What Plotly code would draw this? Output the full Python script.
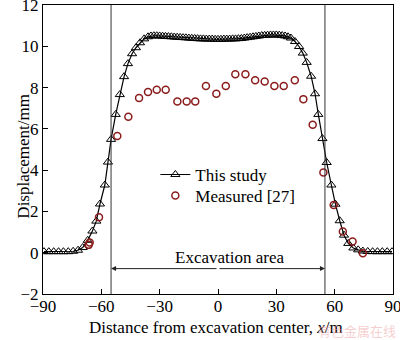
import plotly.graph_objects as go

# Simulated surface displacement profile (this study)
sim_x = [-89.5, -87, -84.5, -82, -79.5, -77, -74.5, -72, -69.6, -67, -64.6, -62.6,
         -60.7, -58.2, -56.6, -55, -52.6, -50.5, -48.3, -46.3, -44.2, -42.2, -40.1,
         -38, -36, -34.5, -33, -31.5, -30, -28.5, -27, -25.5, -24, -22.5, -21, -19.5,
         -18, -16.5, -15, -13.5, -12, -10.5, -9, -7.5, -6, -4.5, -3, -1.5, 0, 1.5, 3,
         4.5, 6, 7.5, 9, 10.5, 12, 13.5, 15, 16.5, 18, 19.5, 21, 22.5, 24, 25.5, 27,
         28.5, 30, 31.5, 33, 34.5, 36, 37.5, 39.6, 41.7, 43.6, 45.6, 47.9, 49.9, 51.6,
         53.7, 55.9, 58.3, 60.4, 62.6, 64.8, 67, 69.6, 72.1, 74.5, 77, 79.5, 82, 84.5,
         87, 89.5]
sim_y = [0.05, 0.05, 0.05, 0.05, 0.05, 0.05, 0.07, 0.12, 0.25, 0.6, 1.05, 1.53,
         2.36, 3.28, 4.39, 5.49, 6.7, 7.66, 8.53, 9.16, 9.64, 9.93, 10.17,
         10.36, 10.46, 10.5, 10.51, 10.51, 10.5, 10.49, 10.48, 10.47, 10.46, 10.45, 10.44, 10.43,
         10.42, 10.41, 10.4, 10.39, 10.38, 10.37, 10.36, 10.36, 10.35, 10.35, 10.35, 10.34, 10.34, 10.34, 10.35,
         10.35, 10.35, 10.36, 10.36, 10.37, 10.38, 10.4, 10.42, 10.44, 10.46, 10.48, 10.5, 10.52, 10.53, 10.54, 10.55,
         10.55, 10.55, 10.54, 10.52, 10.5, 10.46, 10.4, 10.23, 9.99, 9.67, 9.22, 8.55, 7.7, 6.7,
         5.53, 4.37, 3.28, 2.35, 1.55, 0.85, 0.45, 0.23, 0.14, 0.08, 0.06, 0.05, 0.05, 0.05,
         0.05, 0.05]

# Field measurements [27]
meas_x = [-66.5, -66, -61.2, -51.8, -46.1, -40.6, -36, -31.5, -26.9, -20.9, -16.1,
          -11.7, -6.2, -0.85, 4, 8.9, 14.1, 19.1, 24, 29, 33.8, 39.5, 43.9, 48.7,
          54.2, 59.5, 64.2, 69.2, 74.5]
meas_y = [0.38, 0.5, 1.72, 5.65, 6.59, 7.5, 7.79, 7.89, 7.89, 7.33, 7.33,
          7.33, 8.08, 7.7, 8.08, 8.64, 8.64, 8.35, 8.29, 8.08, 8.08, 8.35, 7.44, 6.2,
          3.89, 2.31, 1.03, 0.54, -0.02]

x_ticks = [-90, -60, -30, 0, 30, 60, 90]
y_ticks = [-2, 0, 2, 4, 6, 8, 10, 12]
zone_edges = [-55, 55]

SERIF = "Liberation Serif"
legend_font = dict(family=SERIF, size=17, color="black")

fig = go.Figure()
fig.add_trace(go.Scatter(
    x=sim_x, y=sim_y, mode="lines+markers", name="This study", legend="legend",
    line=dict(color="black", width=1.2),
    marker=dict(symbol="triangle-up-open", size=8, color="black",
                line=dict(width=1, color="black")),
))
fig.add_trace(go.Scatter(
    x=meas_x, y=meas_y, mode="markers", name="Measured [27]", legend="legend2",
    marker=dict(symbol="circle-open", size=7, color="#8b1c1c",
                line=dict(width=1.5, color="#8b1c1c")),
))

# Excavation boundaries
for xe in zone_edges:
    fig.add_shape(type="line", x0=xe, x1=xe, y0=0, y1=1, xref="x", yref="paper",
                  line=dict(color="#333333", width=1))

# Double-headed arrow marking the excavation area
for xe in zone_edges:
    fig.add_annotation(x=xe, y=-0.77, ax=0, ay=-0.77, axref="x", ayref="y",
                       xref="x", yref="y", text="", showarrow=True,
                       arrowhead=2, arrowsize=1, arrowwidth=1, arrowcolor="#222222",
                       standoff=0, startstandoff=0)
fig.add_annotation(x=6, y=-0.24, xref="x", yref="y", text="Excavation area",
                   showarrow=False, font=dict(family=SERIF, size=17, color="black"))

# Axis titles
fig.add_annotation(x=0.493, y=-0.115, xref="paper", yref="paper",
                   text="Distance from excavation center, <i>x</i>/m",
                   showarrow=False, yanchor="middle",
                   font=dict(family=SERIF, size=17, color="black"))
fig.add_annotation(x=-0.0886, y=0.477, xref="paper", yref="paper",
                   text="Displacement/mm", textangle=-90, showarrow=False,
                   font=dict(family=SERIF, size=17, color="black"))

# Faint source mark in the lower-right corner
fig.add_annotation(x=1.015, y=-0.128, xref="paper", yref="paper",
                   text="有色金属在线", showarrow=False, xanchor="right",
                   yanchor="middle",
                   font=dict(family="Noto Sans CJK SC", size=13,
                             color="rgba(235,160,160,0.5)"))

axis_common = dict(showline=True, linecolor="black", linewidth=1, mirror=True,
                   ticks="inside", ticklen=5, tickwidth=1, tickcolor="black",
                   showgrid=False, zeroline=False, ticklabeloverflow="allow",
                   automargin=False,
                   tickfont=dict(family=SERIF, size=17, color="black"))
fig.update_xaxes(range=[-90, 90], tickvals=x_ticks, ticklabelstandoff=-3,
                 **axis_common)
fig.update_yaxes(range=[-2, 12], tickvals=y_ticks, **axis_common)

fig.update_layout(
    width=400, height=340,
    margin=dict(l=43, r=7, t=5, b=46, autoexpand=False),
    plot_bgcolor="white", paper_bgcolor="white",
    showlegend=True,
    legend=dict(x=0.321, y=0.412, xanchor="left", yanchor="middle",
                bgcolor="rgba(0,0,0,0)", font=legend_font),
    legend2=dict(x=0.321, y=0.339, xanchor="left", yanchor="middle",
                 bgcolor="rgba(0,0,0,0)", font=legend_font),
)

fig.write_html("out.html")
